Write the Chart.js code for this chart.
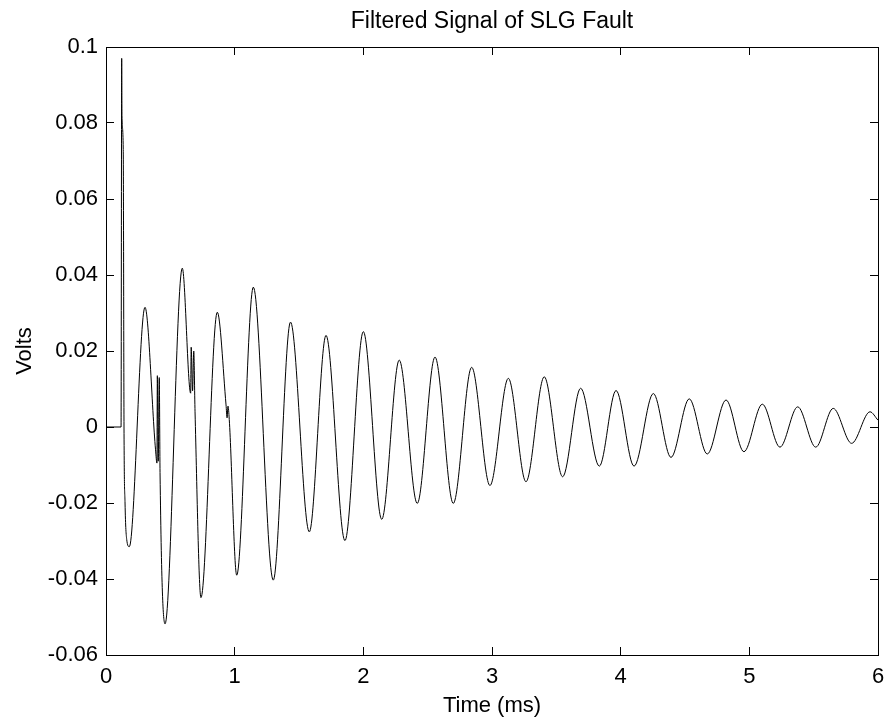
<!DOCTYPE html>
<html>
<head>
<meta charset="utf-8">
<title>Filtered Signal of SLG Fault</title>
<script src="https://cdn.jsdelivr.net/npm/chart.js@4.4.1/dist/chart.umd.min.js"></script>
<style>
  html, body { margin: 0; padding: 0; background: #ffffff; }
  .chart-container { width: 888px; height: 723px; }
</style>
</head>
<body>
<div class="chart-container">
  <canvas id="faultChart"></canvas>
</div>
<script type="text/javascript">
// time (ms) and filtered signal (V)
const timeMs = [
  0, 0.117, 0.122, 0.124, 0.134, 0.140, 0.148, 0.161, 0.181,
  0.303, 0.385, 0.396, 0.399, 0.406, 0.414, 0.420, 0.459,
  0.593, 0.658, 0.662, 0.673, 0.682, 0.692, 0.738,
  0.865, 0.933, 0.941, 0.948, 0.958, 1.016,
  1.145, 1.300, 1.434, 1.580, 1.710, 1.857, 2.000, 2.143,
  2.279, 2.419, 2.557, 2.699, 2.842, 2.984, 3.127, 3.264,
  3.406, 3.549, 3.689, 3.834, 3.964, 4.104, 4.254, 4.391,
  4.533, 4.673, 4.819, 4.958, 5.101, 5.238, 5.376, 5.516,
  5.652, 5.795, 5.938, 6.000
];
const volts = [
  0, 0, 0.097, 0.082, 0.073, 0.0, -0.020, -0.0296, -0.0315,
  0.0315, -0.006, -0.0095, 0.0135, -0.009, 0.013, -0.012, -0.0518,
  0.0418, 0.0089, 0.021, 0.0095, 0.020, 0.004, -0.0449,
  0.0302, 0.0058, 0.0024, 0.0055, 0.002, -0.039,
  0.0368, -0.0403, 0.0276, -0.0276, 0.0241, -0.0299, 0.0251, -0.0243,
  0.0176, -0.0201, 0.0184, -0.0201, 0.0157, -0.0154, 0.0128, -0.0144,
  0.0132, -0.0131, 0.0102, -0.0103, 0.0096, -0.0103, 0.0088, -0.0080,
  0.0074, -0.0071, 0.0071, -0.0065, 0.0060, -0.0053, 0.0053, -0.0053,
  0.0049, -0.0043, 0.0040, 0.0018
];
const xTicks = [0, 1, 2, 3, 4, 5, 6];
const yTicks = [-0.06, -0.04, -0.02, 0, 0.02, 0.04, 0.06, 0.08, 0.1];

const points = timeMs.map(function (t, i) { return { x: t, y: volts[i] }; });

Chart.defaults.font.family = "'Liberation Sans', Arial, sans-serif";
Chart.defaults.font.size = 22;
Chart.defaults.color = "#000000";

function fmt(v) {
  return Number(v.toFixed(2)).toString();
}

// inward tick marks on all four sides, MATLAB style
const tickGrid = {
  drawOnChartArea: false,
  drawTicks: true,
  tickLength: -8,
  color: "#000000",
  lineWidth: 1
};
const axisBorder = { display: true, color: "#000000", width: 1 };

new Chart("faultChart", {
  type: "line",
  data: {
    datasets: [{
      label: "Filtered signal",
      data: points,
      borderColor: "#000000",
      borderWidth: 1,
      pointRadius: 0,
      fill: false,
      cubicInterpolationMode: 'monotone'
    }]
  },
  options: {
    responsive: true,
    maintainAspectRatio: false,
    animation: false,
    layout: { padding: { left: 0, right: 10, top: 0, bottom: 0 } },
    plugins: {
      legend: { display: false },
      tooltip: { enabled: false },
      title: {
        display: true,
        fullSize: false,
        text: "Filtered Signal of SLG Fault",
        color: "#000000",
        font: { size: 23, weight: "normal", lineHeight: 1.2 },
        padding: { top: 8, bottom: 11.4 }
      }
    },
    scales: {
      x: {
        type: "linear",
        position: "bottom",
        min: 0,
        max: 6,
        afterBuildTicks: function (scale) {
          scale.ticks = xTicks.map(function (v) { return { value: v }; });
        },
        afterFit: function (scale) {
          scale.height = 68;
          scale.paddingLeft = 6;
          scale.paddingRight = 6;
        },
        grid: tickGrid,
        border: axisBorder,
        ticks: { padding: 17, maxRotation: 0, callback: function (v) { return fmt(v); } },
        title: { display: true, text: "Time (ms)", font: { size: 22 }, padding: { top: 0, bottom: 4 } }
      },
      x2: {
        type: "linear",
        position: "top",
        min: 0,
        max: 6,
        afterBuildTicks: function (scale) {
          scale.ticks = xTicks.map(function (v) { return { value: v }; });
        },
        afterFit: function (scale) { scale.height = 0; },
        grid: tickGrid,
        border: axisBorder,
        ticks: { display: false }
      },
      y: {
        type: "linear",
        position: "left",
        min: -0.06,
        max: 0.1,
        afterBuildTicks: function (scale) {
          scale.ticks = yTicks.map(function (v) { return { value: v }; });
        },
        afterFit: function (scale) { scale.width = 106; },
        grid: tickGrid,
        border: axisBorder,
        ticks: { padding: 16, callback: function (v) { return fmt(v); } },
        title: { display: true, text: "Volts", font: { size: 22 }, padding: { top: 12, bottom: 0 } }
      },
      y2: {
        type: "linear",
        position: "right",
        min: -0.06,
        max: 0.1,
        afterBuildTicks: function (scale) {
          scale.ticks = yTicks.map(function (v) { return { value: v }; });
        },
        afterFit: function (scale) { scale.width = 0; },
        grid: tickGrid,
        border: axisBorder,
        ticks: { display: false }
      }
    }
  }
});
</script>
</body>
</html>
